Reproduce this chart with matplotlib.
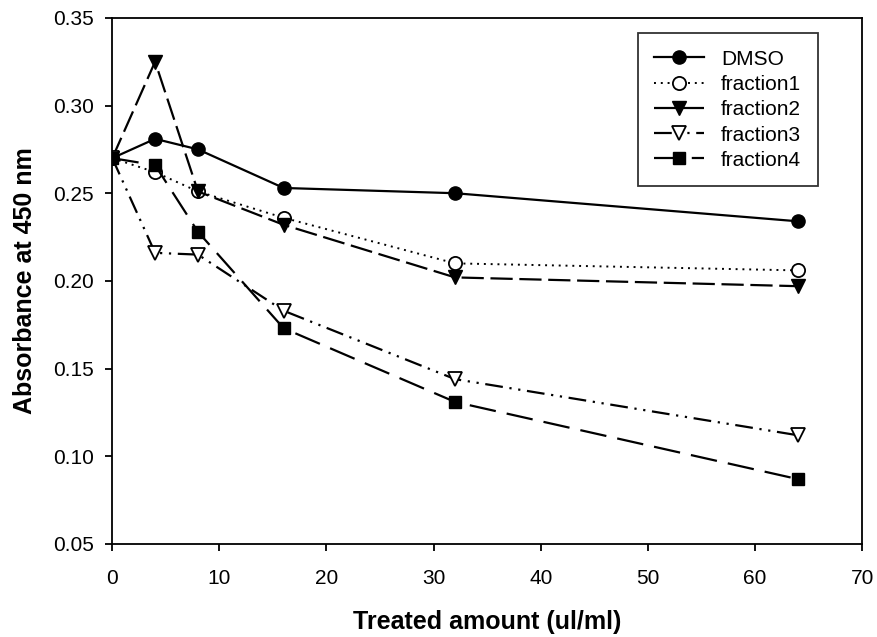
import matplotlib.pyplot as plt

plt.rcParams['font.family'] = ['Liberation Sans', 'DejaVu Sans']

# Treated amount (ul/ml)
doses = [0, 4, 8, 16, 32, 64]

# Absorbance at 450 nm
dmso = [0.270, 0.281, 0.275, 0.253, 0.250, 0.234]
fraction1 = [0.270, 0.262, 0.251, 0.236, 0.210, 0.206]
fraction2 = [0.270, 0.325, 0.251, 0.232, 0.202, 0.197]
fraction3 = [0.270, 0.216, 0.215, 0.183, 0.144, 0.112]
fraction4 = [0.270, 0.266, 0.228, 0.173, 0.131, 0.087]

fig = plt.figure(figsize=(8.77, 6.37), dpi=100)
ax = fig.add_axes([0.128, 0.146, 0.855, 0.826])

ax.plot(doses, dmso, color='black', lw=1.6, marker='o', ms=9.5,
        markerfacecolor='black', label='DMSO')
ax.plot(doses, fraction1, color='black', lw=1.4, ls=(0, (1, 2.5)), marker='o', ms=9.5,
        markerfacecolor='white', markeredgewidth=1.3, label='fraction1')
ax.plot(doses, fraction2, color='black', lw=1.6, ls=(0, (10, 3)), marker='v', ms=10.5,
        markerfacecolor='black', label='fraction2')
ax.plot(doses, fraction3, color='black', lw=1.6, ls=(0, (8, 3, 1, 3, 1, 3)), marker='v', ms=10.5,
        markerfacecolor='white', markeredgewidth=1.3, label='fraction3')
ax.plot(doses, fraction4, color='black', lw=1.6, ls=(0, (12, 5)), marker='s', ms=9,
        markerfacecolor='black', label='fraction4')

ax.set_xlim(0, 70)
ax.set_ylim(0.05, 0.35)
ax.set_xticks(range(0, 71, 10))
ax.set_yticks([0.05, 0.10, 0.15, 0.20, 0.25, 0.30, 0.35])
ax.set_yticklabels(['0.05', '0.10', '0.15', '0.20', '0.25', '0.30', '0.35'])
ax.tick_params(axis='both', direction='out', length=5, width=1.3, labelsize=15)
ax.tick_params(axis='x', pad=13)
ax.tick_params(axis='y', pad=8)

for s in ax.spines.values():
    s.set_linewidth(1.3)

ax.set_xlabel('Treated amount (ul/ml)', fontsize=18, fontweight='bold', labelpad=16)
ax.set_ylabel('Absorbance at 450 nm', fontsize=18, fontweight='bold', labelpad=12)

leg = ax.legend(loc='upper right', bbox_to_anchor=(0.941, 0.971), borderaxespad=0,
                fontsize=15, frameon=True, fancybox=False, edgecolor='black',
                handlelength=2.4, labelspacing=0.3, borderpad=0.8, handletextpad=0.8)
leg.get_frame().set_linewidth(1.3)

fig.savefig('out.png', dpi=100)
